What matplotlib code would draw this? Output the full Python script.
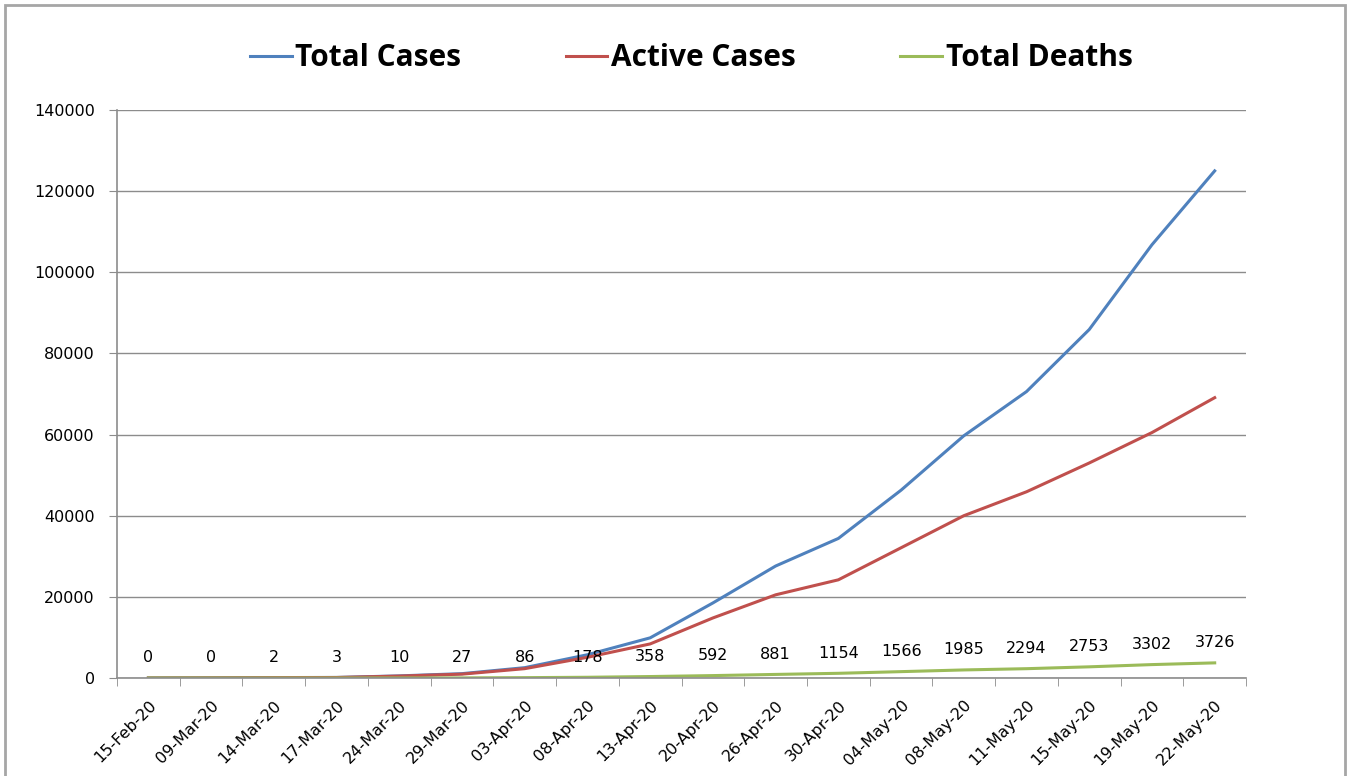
import matplotlib
matplotlib.use('Agg')
import matplotlib.pyplot as plt
from matplotlib.patches import Rectangle
from matplotlib.ticker import FixedLocator, NullFormatter

plt.rcParams['font.family'] = ['DejaVu Sans']

# data (India covid numbers)
dates = ['15-Feb-20', '09-Mar-20', '14-Mar-20', '17-Mar-20', '24-Mar-20', '29-Mar-20',
         '03-Apr-20', '08-Apr-20', '13-Apr-20', '20-Apr-20', '26-Apr-20', '30-Apr-20',
         '04-May-20', '08-May-20', '11-May-20', '15-May-20', '19-May-20', '22-May-20']
total_cases = [3, 43, 100, 137, 519, 1071, 2547, 5734, 9900, 18500, 27600, 34400,
               46300, 59700, 70600, 85900, 106800, 125000]
active_cases = [0, 39, 88, 120, 470, 950, 2300, 5100, 8400, 14800, 20500, 24200,
                32100, 40000, 45900, 53000, 60500, 69100]
total_deaths = [0, 0, 2, 3, 10, 27, 86, 178, 358, 592, 881, 1154,
                1566, 1985, 2294, 2753, 3302, 3726]

BLUE = '#4F81BD'
RED = '#C0504D'
GREEN = '#9BBB59'
GREY = '#8c8c8c'


def plot():
    fig = plt.figure(figsize=(13.5, 7.76), dpi=100)
    ax = fig.add_axes([0.0867, 0.1263, 0.8363, 0.7319])

    x = list(range(len(dates)))
    l1, = ax.plot(x, total_cases, color=BLUE, lw=2.2, label='Total Cases')
    l2, = ax.plot(x, active_cases, color=RED, lw=2.2, label='Active Cases')
    l3, = ax.plot(x, total_deaths, color=GREEN, lw=2.2, label='Total Deaths')

    # data labels on the deaths line
    for xi, d in zip(x, total_deaths):
        ax.annotate(str(d), (xi, d), xytext=(0, 14.4), textcoords='offset points',
                    ha='center', va='center', fontsize=11.5, color='black')

    # y axis
    ax.set_ylim(0, 140000)
    ax.set_yticks(range(0, 140001, 20000))
    ax.yaxis.grid(True, color=GREY, lw=1)
    ax.set_axisbelow(True)
    ax.tick_params(axis='y', length=6, color=GREY, labelsize=11.5, pad=10)

    # x axis: labels in the middle, ticks on the category borders
    ax.set_xlim(-0.5, len(dates) - 0.5)
    ax.set_xticks(x)
    ax.set_xticklabels(dates, rotation=45, ha='right', rotation_mode='anchor')
    ax.tick_params(axis='x', length=0, labelsize=11.5, pad=14)
    ax.xaxis.set_minor_locator(FixedLocator([i - 0.5 for i in range(len(dates) + 1)]))
    ax.xaxis.set_minor_formatter(NullFormatter())
    ax.tick_params(axis='x', which='minor', length=6, color=GREY)

    for s in ['top', 'right']:
        ax.spines[s].set_visible(False)
    for s in ['left', 'bottom']:
        ax.spines[s].set_color(GREY)
        ax.spines[s].set_linewidth(1.2)

    fig.legend(handles=[l1, l2, l3], loc='center', bbox_to_anchor=(0.512, 0.925),
               ncol=3, frameon=False, handlelength=1.4, handletextpad=0.12,
               columnspacing=3.5, prop={'family': 'Open Sans', 'weight': 'bold', 'size': 21.5})

    # grey frame round the whole chart
    fig.patches.append(Rectangle((0.0037, -0.01), 0.9926, 1.0036, transform=fig.transFigure,
                                 fill=False, edgecolor='#a6a6a6', lw=2))

    fig.savefig('out.png', dpi=100)


if __name__ == "__main__":
    plot()
